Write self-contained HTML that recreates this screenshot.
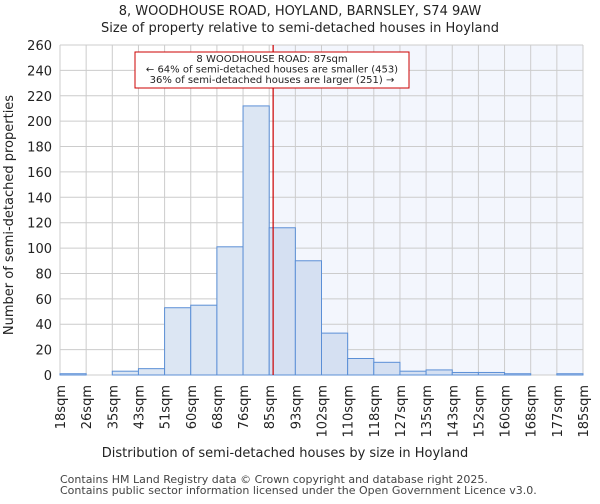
<!DOCTYPE html>
<html><head><meta charset="utf-8"><style>
body{margin:0;background:#fff;font-family:"DejaVu Sans","Liberation Sans",sans-serif;}
</style></head><body>
<svg width="600" height="500" viewBox="0 0 600 500" font-family="DejaVu Sans, Liberation Sans, sans-serif">
<text x="300" y="15" text-anchor="middle" font-size="13" fill="#222">8, WOODHOUSE ROAD, HOYLAND, BARNSLEY, S74 9AW</text>
<text x="300" y="32" text-anchor="middle" font-size="13" fill="#222">Size of property relative to semi-detached houses in Hoyland</text>
<g id="plot"></g>
<text x="285" y="457" text-anchor="middle" font-size="13" fill="#222">Distribution of semi-detached houses by size in Hoyland</text>
<text transform="translate(13,215) rotate(-90)" text-anchor="middle" font-size="13" fill="#222">Number of semi-detached properties</text>
<text x="60" y="483" font-size="11" fill="#444">Contains HM Land Registry data © Crown copyright and database right 2025.</text>
<text x="60" y="494" font-size="11" fill="#444">Contains public sector information licensed under the Open Government Licence v3.0.</text>
</svg>
<script>
const binLabels=["18sqm","26sqm","35sqm","43sqm","51sqm","60sqm","68sqm","76sqm","85sqm","93sqm","102sqm","110sqm","118sqm","127sqm","135sqm","143sqm","152sqm","160sqm","168sqm","177sqm","185sqm"];
const counts=[1,0,3,5,53,55,101,212,116,90,33,13,10,3,4,2,2,1,0,1];
const yTicks=[0,20,40,60,80,100,120,140,160,180,200,220,240,260];
const markerIndex=8.15;
const NS="http://www.w3.org/2000/svg";
const g=document.getElementById('plot');
const L=60,R=583,T=45,B=375,yMax=260;
const n=counts.length,bw=(R-L)/n;
const xs=i=>L+i*bw;
const ys=v=>B-v/yMax*(B-T);
function mk(t,a){const e=document.createElementNS(NS,t);for(const k in a)e.setAttribute(k,a[k]);g.appendChild(e);return e;}
const mx=xs(markerIndex);
let e=mk('rect',{x:mx,y:T,width:R-mx,height:B-T,fill:'#f3f6fd'});


for(let i=0;i<=n;i++){e=mk('line',{x1:xs(i),x2:xs(i),y1:T,y2:B,stroke:'#ccc','stroke-width':1});

}
yTicks.forEach(v=>{e=mk('line',{x1:L,x2:R,y1:ys(v),y2:ys(v),stroke:'#ccc','stroke-width':1});


const t=mk('text',{x:L-8,y:ys(v)+5,'text-anchor':'end','font-size':13,fill:'#222'});t.textContent=v;

});
counts.forEach((c,i)=>{e=mk('rect',{x:xs(i),y:ys(c),width:bw,height:B-ys(c),fill:i>=8?'#d5e0f2':'#dce6f3',stroke:'#5b8fd6','stroke-width':1});

});
binLabels.forEach((s,i)=>{const t=mk('text',{transform:`translate(${xs(i)+5},${B+10}) rotate(-90)`,'text-anchor':'end','font-size':13,fill:'#222'});t.textContent=s;

});
e=mk('line',{x1:mx,x2:mx,y1:T,y2:B,stroke:'#c00','stroke-width':1.2});


e=mk('rect',{x:135,y:52,width:274,height:36,fill:'#fff',stroke:'#c00','stroke-width':1});


["8 WOODHOUSE ROAD: 87sqm","← 64% of semi-detached houses are smaller (453)","36% of semi-detached houses are larger (251) →"].forEach((s,k)=>{
const t=mk('text',{x:272,y:62+k*10.5,'text-anchor':'middle','font-size':10,fill:'#222'});t.textContent=s;

});
</script>
</body></html>
